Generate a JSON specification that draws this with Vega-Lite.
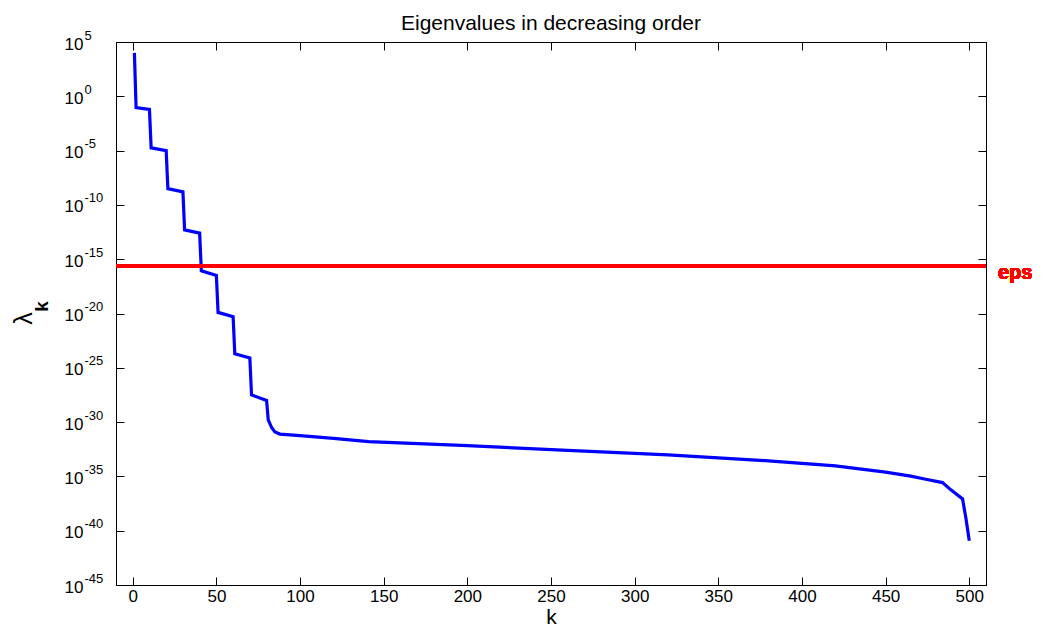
{
  "$schema": "https://vega.github.io/schema/vega-lite/v6.json",
  "width": 870,
  "height": 543,
  "autosize": {"type": "none"},
  "padding": {"left": 116, "top": 42, "right": 64, "bottom": 42},
  "background": "white",
  "config": {
    "view": {"stroke": "black", "strokeWidth": 1},
    "font": "Liberation Sans",
    "axis": {"grid": false, "domainColor": "black", "tickColor": "black", "labelColor": "black", "titleColor": "black", "labelFont": "Liberation Sans", "titleFont": "Liberation Sans", "tickSize": -8, "labelFontSize": 17}
  },
  "title": {"text": "Eigenvalues in decreasing order", "fontSize": 21, "fontWeight": "normal", "font": "Liberation Sans", "offset": -5, "color": "black"},
  "data": {"values": [
    {"k": 1, "lambda": 1e4},
    {"k": 2, "lambda": 9.3e-2},
    {"k": 10, "lambda": 6.3e-2},
    {"k": 11, "lambda": 1.78e-5},
    {"k": 20, "lambda": 1e-5},
    {"k": 21, "lambda": 3.16e-9},
    {"k": 30, "lambda": 1.58e-9},
    {"k": 31, "lambda": 5.0e-13},
    {"k": 40, "lambda": 2.5e-13},
    {"k": 41, "lambda": 8.5e-17},
    {"k": 50, "lambda": 3.16e-17},
    {"k": 51, "lambda": 1.26e-20},
    {"k": 60, "lambda": 5.0e-21},
    {"k": 61, "lambda": 2.0e-24},
    {"k": 70, "lambda": 7.9e-25},
    {"k": 71, "lambda": 3.16e-28},
    {"k": 80, "lambda": 1e-28},
    {"k": 81, "lambda": 1.58e-30},
    {"k": 83, "lambda": 3.16e-31},
    {"k": 85, "lambda": 1.26e-31},
    {"k": 88, "lambda": 7.9e-32},
    {"k": 100, "lambda": 5.6e-32},
    {"k": 120, "lambda": 3.16e-32},
    {"k": 141, "lambda": 1.58e-32},
    {"k": 200, "lambda": 6.8e-33},
    {"k": 260, "lambda": 2.5e-33},
    {"k": 320, "lambda": 9.5e-34},
    {"k": 380, "lambda": 2.7e-34},
    {"k": 420, "lambda": 9.3e-35},
    {"k": 450, "lambda": 2.5e-35},
    {"k": 465, "lambda": 1.07e-35},
    {"k": 474, "lambda": 5.5e-36},
    {"k": 484, "lambda": 2.7e-36},
    {"k": 489, "lambda": 5.75e-37},
    {"k": 496, "lambda": 8.5e-38},
    {"k": 498, "lambda": 1.4e-39},
    {"k": 500, "lambda": 1.17e-41}
  ]},
  "resolve": {"axis": {"x": "independent", "y": "independent"}},
  "layer": [
    {
      "mark": {"type": "line", "color": "#0000ff", "strokeWidth": 3.2},
      "encoding": {
        "x": {"field": "k", "type": "quantitative", "scale": {"domain": [-10, 510], "nice": false, "zero": false},
              "axis": {"orient": "bottom", "values": [0, 50, 100, 150, 200, 250, 300, 350, 400, 450, 500], "labelPadding": 11, "title": "k", "titleFontSize": 21, "titleFontWeight": "normal", "titlePadding": 2}},
        "y": {"field": "lambda", "type": "quantitative", "scale": {"type": "log", "domain": [1e-45, 1e5], "nice": false},
              "axis": {"orient": "left", "values": [1e5, 1, 1e-5, 1e-10, 1e-15, 1e-20, 1e-25, 1e-30, 1e-35, 1e-40, 1e-45], "labelExpr": "'10'", "labelPadding": 41, "labelOffset": 2, "title": "λ", "titleFontSize": 25, "titleFontWeight": "normal", "titleAngle": -90, "titleAlign": "center", "titleBaseline": "middle", "titleX": -93, "titleY": 276}}
      }
    },
    {
      "mark": {"type": "line", "opacity": 0},
      "encoding": {
        "x": {"field": "k", "type": "quantitative",
              "axis": {"orient": "top", "values": [0, 50, 100, 150, 200, 250, 300, 350, 400, 450, 500], "labels": false, "title": null}},
        "y": {"field": "lambda", "type": "quantitative",
              "axis": {"orient": "right", "values": [1e5, 1, 1e-5, 1e-10, 1e-15, 1e-20, 1e-25, 1e-30, 1e-35, 1e-40, 1e-45], "labels": false, "title": null}}
      }
    },
    {
      "mark": {"type": "line", "opacity": 0},
      "encoding": {
        "x": {"field": "k", "type": "quantitative", "axis": null},
        "y": {"field": "lambda", "type": "quantitative",
              "axis": {"orient": "left", "values": [1e5, 1, 1e-5, 1e-10, 1e-15, 1e-20, 1e-25, 1e-30, 1e-35, 1e-40, 1e-45], "labelExpr": "'' + round(log(datum.value)/LN10)", "labelAlign": "left", "labelPadding": 32, "labelOffset": -7, "labelFontSize": 13, "ticks": false, "domain": false, "title": "k", "titleFontSize": 19, "titleFontWeight": "bold", "titleAngle": -90, "titleAlign": "center", "titleBaseline": "middle", "titleX": -75, "titleY": 264}}
      }
    },
    {
      "mark": {"type": "rule", "color": "#ff0000", "strokeWidth": 3},
      "encoding": {"y": {"datum": 2.220446e-16, "type": "quantitative", "axis": null}}
    },
    {
      "mark": {"type": "text", "color": "#ff0000", "fontWeight": "bold", "fontSize": 20, "align": "left", "baseline": "middle", "dx": 12, "dy": 7, "font": "Liberation Sans"},
      "encoding": {
        "x": {"datum": 510, "type": "quantitative", "axis": null},
        "y": {"datum": 2.220446e-16, "type": "quantitative", "axis": null},
        "text": {"value": "eps"}
      }
    }
  ]
}
